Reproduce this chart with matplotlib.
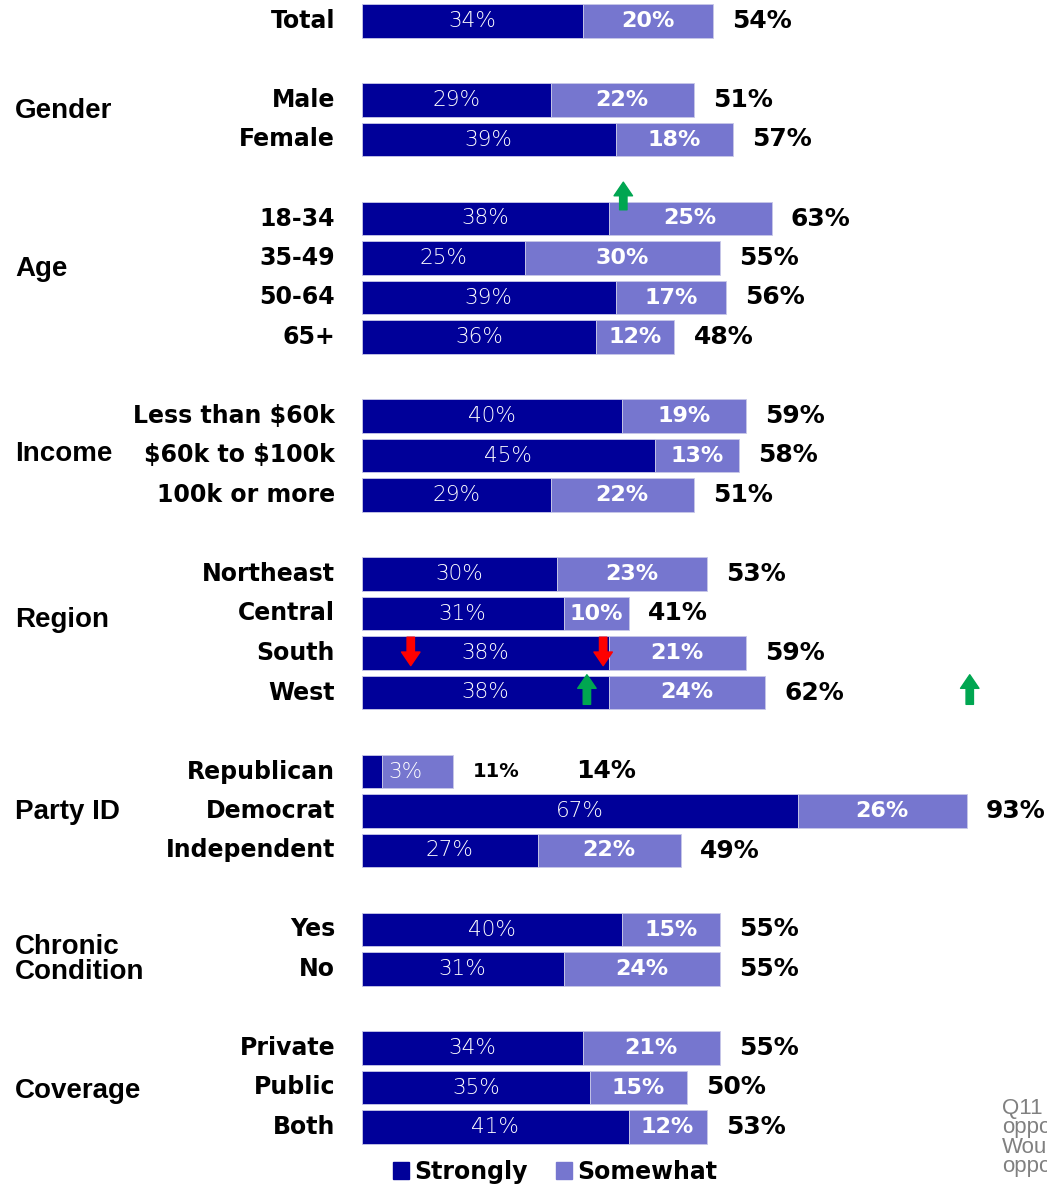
import matplotlib
matplotlib.use('Agg')
import matplotlib.pyplot as plt
import matplotlib.transforms as mtransforms
from matplotlib.patches import Patch
import numpy as np


# Data (percent)
groups = ['', 'Gender', 'Age', 'Income', 'Region', 'Party ID', 'Chronic\nCondition', 'Coverage']
group_rows = [
    ['Total'],
    ['Male', 'Female'],
    ['18-34', '35-49', '50-64', '65+'],
    ['Less than \\$60k', '\\$60k to \\$100k', '100k or more'],
    ['Northeast', 'Central', 'South', 'West'],
    ['Republican', 'Democrat', 'Independent'],
    ['Yes', 'No'],
    ['Private', 'Public', 'Both'],
]
strongly = [34, 29, 39, 38, 25, 39, 36, 40, 45, 29, 30, 31, 38, 38, 3, 67, 27, 40, 31, 34, 35, 41]
somewhat = [20, 22, 18, 25, 30, 17, 12, 19, 13, 22, 23, 10, 21, 24, 11, 26, 22, 15, 24, 21, 15, 12]
totals = [54, 51, 57, 63, 55, 56, 48, 59, 58, 51, 53, 41, 59, 62, 14, 93, 49, 55, 55, 55, 50, 53]

# change markers: (category, x in %, direction)
markers = [('18-34', 40.2, 'up'), ('South', 7.5, 'down'), ('South', 37.1, 'down'),
           ('West', 34.6, 'up'), ('West', 93.5, 'up')]

dark = '#000099'
light = '#7676CF'

# row positions: one empty row between blocks
cats, ypos, group_y = [], [], []
k = 0
for rows in group_rows:
    start = k
    for r in rows:
        cats.append(r)
        ypos.append(k)
        k += 1
    group_y.append((start + k - 1) / 2)
    k += 1
ypos = np.array(ypos, dtype=float)

# small vertical nudges for the group titles (rows)
group_shift = [0, -0.22, -0.22, -0.05, -0.33, 0.03, 0.25, 0.1]

W, H = 1047, 1189
fig = plt.figure(figsize=(W / 100, H / 100), dpi=100)
row_px = 39.5
ax = fig.add_axes([362 / W, 0, (W - 362) / W, 1])
ax.set_xlim(0, (W - 362) / 6.5)
ax.set_ylim((H - 21) / row_px, -21 / row_px)
ax.axis('off')

s = np.array(strongly)
m = np.array(somewhat)
ax.barh(ypos, s, height=0.84, color=dark, edgecolor='#c8c8e8', linewidth=0.6)
ax.barh(ypos, m, left=s, height=0.84, color=light, edgecolor='#c8c8e8', linewidth=0.6)

thin = dict(color='white', fontsize=15.5, family='DejaVu Sans', fontweight='light',
            ha='center', va='center')
for i, y in enumerate(ypos):
    if strongly[i] < 5:
        # small bar: labels pushed around as in the original
        ax.text(s[i] + m[i] * 0.33, y, f'{strongly[i]}%', **thin)
        ax.text(s[i] + m[i] + 3, y, f'{somewhat[i]}%', color='black', fontsize=14,
                fontweight='bold', ha='left', va='center')
        ax.text(s[i] + m[i] + 19, y, f'{totals[i]}%', color='black', fontsize=18,
                fontweight='bold', ha='left', va='center')
        continue
    ax.text(s[i] / 2, y, f'{strongly[i]}%', **thin)
    ax.text(s[i] + m[i] / 2, y, f'{somewhat[i]}%', color='white', fontsize=16,
            fontweight='bold', ha='center', va='center')
    ax.text(s[i] + m[i] + 3, y, f'{totals[i]}%', color='black', fontsize=18,
            fontweight='bold', ha='left', va='center')

# category and group labels
tr = mtransforms.blended_transform_factory(fig.transFigure, ax.transData)
for c, y in zip(cats, ypos):
    ax.text(335 / W, y, c, transform=tr, ha='right', va='center',
            fontsize=17, fontweight='bold', color='black')
for g, y, dy in zip(groups, group_y, group_shift):
    if g:
        ax.text(15 / W, y + dy, g, transform=tr, ha='left', va='center',
                fontsize=20, fontweight='bold', color='black',
                family='Liberation Sans', linespacing=0.95)

# arrows
for c, x, d in markers:
    y = ypos[cats.index(c)]
    if d == 'up':
        tip, tail, col = y - 0.45, y + 0.3, '#00A651'
    else:
        tip, tail, col = y + 0.32, y - 0.4, '#FF0000'
    if c == '18-34':
        tip, tail = y - 0.92, y - 0.22
    ax.annotate('', xy=(x, tip), xytext=(x, tail),
                arrowprops=dict(arrowstyle='simple,head_width=0.95,head_length=0.7,tail_width=0.38',
                                color=col, mutation_scale=14, shrinkA=0, shrinkB=0))

# legend
handles = [Patch(color=dark), Patch(color=light)]
fig.legend(handles, ['Strongly', 'Somewhat'], loc='center', bbox_to_anchor=(555 / W, 1 - 1172 / H),
           ncol=2, frameon=False, handlelength=0.7, handleheight=0.7, handletextpad=0.2,
           columnspacing=1.2, prop=dict(size=17, weight='bold'))

# question note, cut by the right edge as in the original
fig.text(1002 / W, 1 - 1098 / H, 'Q11\noppose\nWould\noppose', color='#808080',
         fontsize=16, family='Liberation Sans', va='top', ha='left', linespacing=0.9)

fig.savefig('out.png', dpi=100)
